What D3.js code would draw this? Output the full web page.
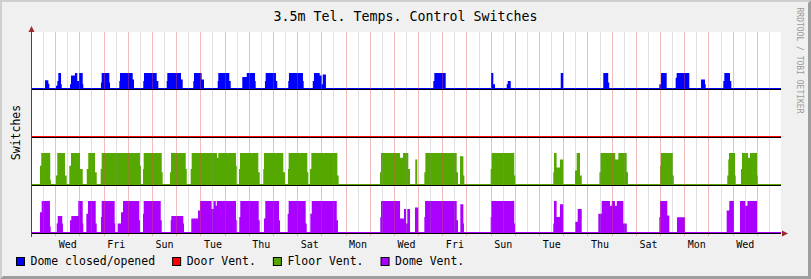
<!DOCTYPE html>
<html lang="en">
<head>
<meta charset="UTF-8">
<title>3.5m Tel. Temps. Control Switches</title>
<style>
  body { margin: 0; background: #f0f0f0; }
  svg { display: block; }
  text { font-family: "DejaVu Sans Mono", monospace; }
</style>
</head>
<body>
<script src="https://cdn.jsdelivr.net/npm/d3@7"></script>
<script>
// switch states: [hour since start (Tue 00:00), level 0..1], level holds until next point
const domeOpen = [[13.9,0.55],[17.2,0.33],[18.2,0],
  [24.8,0.2],[26.1,0.5],[27.1,1],[29.8,0.3],[30.5,0],
  [38.7,0.3],[39.7,0.85],[43.6,1],[45.9,0.5],[47.6,1],[51.3,0.3],[51.9,0],
  [69.4,0.4],[70.1,1],[77.7,0.4],[78.4,0],
  [87.6,0.5],[88.3,1],[100.9,0.6],[102.2,0],
  [111.4,0.5],[112.1,1],[124.7,0.5],[126.3,0],
  [134.6,0.5],[135.2,1],[148.8,0.6],[150.5,0],
  [161.0,0.5],[161.7,1],[169.3,0.6],[171.6,0],
  [185.2,0.5],[185.8,1],[196.7,0.5],[198.1,0],
  [209.6,0.75],[214.0,1],[222.2,0.5],[222.9,0],
  [232.1,0.5],[232.8,1],[243.0,0.5],[244.3,0],
  [255.2,0.5],[255.9,1],[269.8,0.5],[270.5,0],
  [279.5,0.5],[280.7,1],[286.4,0.85],[288.4,0.3],[289.4,0.9],[292.6,0],
  [399.1,0.5],[400.1,1],[411.4,0],
  [456.3,1],[458.6,0.3],[460.3,0],
  [471.9,0.3],[472.9,0.5],[475.9,0],
  [525.5,1],[528.0,0],
  [567.7,1],[572.6,0.4],[573.6,0],
  [623.3,0.3],[625.0,1],[630.6,0],
  [639.5,0.7],[640.5,1],[653.0,0],
  [664.6,0.6],[668.6,0.3],[669.3,0],
  [686.8,0.5],[687.8,1],[693.4,0.5],[694.7,0]];

const doorVent = [];

const floorVent = [[8.9,0.6],[10.2,1],[19.1,0.15],[19.8,0],
  [24.8,0.3],[26.1,1],[33.7,0.3],[35.4,0],
  [38.0,0.6],[39.7,1],[48.6,0.5],[51.3,0],
  [55.3,0.5],[56.8,1],[63.5,0.4],[65.2,0],
  [69.1,0.5],[70.1,1],[108.1,0.6],[109.1,0],
  [111.1,0.5],[111.8,1],[129.7,0.4],[130.6,0],
  [137.9,0.4],[138.9,1],[153.5,0.5],[154.5,0],
  [158.4,0.5],[159.4,1],[184.5,0.85],[185.8,1],[203.4,0.6],[204.1,0],
  [206.3,0.5],[207.3,1],[225.5,0.4],[226.9,0],
  [230.4,0.5],[231.1,1],[250.3,0.4],[252.0,0],
  [254.9,0.5],[255.6,1],[274.1,0.4],[275.1,0],
  [276.8,0.5],[278.1,1],[303.9,0.3],[305.2,0],
  [346.2,0.4],[347.2,1],[366.1,0.85],[369.0,1],[374.3,0.5],[376.0,0],
  [381.2,0.8],[383.2,0],
  [390.2,0.4],[391.2,1],[422.3,0.4],[423.6,0],
  [425.6,0.9],[428.9,0.3],[429.9,0],
  [456.0,0.5],[457.0,1],[479.4,0.3],[480.4,0],
  [518.1,0.4],[518.8,1],[521.4,0.55],[524.7,0.8],[528.0,0],
  [539.6,0.45],[541.3,1],[544.6,0.3],[546.3,0],
  [563.9,0.4],[564.9,1],[579.6,0.8],[582.6,1],[590.9,0.4],[592.2,0],
  [624.1,0.6],[624.8,1],[636.7,0.3],[637.7,0],
  [690.7,0.3],[691.7,0.8],[692.4,1],[698.4,0.3],[699.1,0],
  [704.3,0.5],[705.3,1],[711.3,0.85],[713.2,1],[720.2,0.3],[720.9,0]];

const domeVent = [[8.9,0.65],[10.6,1],[18.8,0.2],[19.5,0],
  [25.5,0.3],[26.5,0.53],[31.0,0.3],[31.7,0],
  [38.7,0.4],[40.0,0.53],[46.9,1],[51.3,0.3],[51.9,0],
  [54.9,0.6],[56.5,1],[64.2,0.3],[65.2,0],
  [69.4,0.5],[70.1,1],[83.0,0.3],[83.6,0],
  [86.0,0.3],[89.3,0.65],[91.3,1],[107.4,0.4],[108.1,0],
  [111.1,0.6],[111.8,1],[128.7,0.4],[129.7,0],
  [138.6,0.4],[139.2,0.53],[151.1,0.3],[151.8,0],
  [159.0,0.45],[165.7,0.7],[167.6,1],[179.2,0.75],[181.0,1],[183.3,0.85],[184.3,1],[203.4,0.4],[204.1,0],
  [206.6,0.5],[207.6,1],[225.9,0.4],[226.9,0],
  [231.1,0.45],[232.4,1],[246.0,0.4],[247.0,0],
  [254.6,0.6],[255.6,1],[272.5,0.3],[273.5,0],
  [277.1,0.6],[278.5,1],[303.3,0.4],[304.5,0],
  [346.5,0.5],[347.2,1],[366.1,0.45],[370.0,0.75],[372.0,0.3],[373.3,0.75],[376.0,0],
  [380.9,0.8],[384.2,0],
  [390.2,0.5],[390.9,1],[422.3,0.4],[423.6,0],
  [425.9,0.9],[428.9,0.3],[429.5,0],
  [456.0,0.5],[456.6,1],[479.4,0.3],[480.1,0],
  [518.1,0.3],[518.8,1],[521.4,0.5],[524.7,0.9],[528.0,0],
  [539.9,0.35],[542.3,0.75],[546.3,0],
  [562.8,0.6],[566.1,1],[574.4,0.85],[576.1,1],[579.3,0.85],[581.1,1],[587.6,0.3],[591.0,0],
  [623.3,0.5],[624.0,1],[631.2,0.55],[633.2,0],
  [640.8,0.49],[648.8,0],
  [690.1,0.7],[692.7,1],[697.4,0],
  [703.3,1],[708.7,0.85],[710.7,1],[720.2,0]];

const seriesNames = ['Dome closed/opened', 'Door Vent.', 'Floor Vent.', 'Dome Vent.'];
const dayNames = ['Wed', 'Fri', 'Sun', 'Tue', 'Thu', 'Sat', 'Mon', 'Wed', 'Fri', 'Sun', 'Tue', 'Thu', 'Sat', 'Mon', 'Wed'];
const labelDays = [1, 3, 5, 7, 9, 11, 13, 15, 17, 19, 21, 23, 25, 27, 29];
const totalHours = 744;

const width = 811, height = 279;
const margin = {left: 31, right: 30, top: 32, bottom: 46};

// each switch is drawn in its own band, offset up the y axis
const bands = [
  {data: domeOpen, base: 4.5, amp: 0.5, color: '#0000ff'},
  {data: doorVent, base: 3, amp: 1, color: '#ff0000'},
  {data: floorVent, base: 1.5, amp: 1, color: '#54a800'},
  {data: domeVent, base: 0, amp: 1, color: '#aa00ff'}
];

const svg = d3.select('body').append('svg')
  .attr('width', width).attr('height', height);

// background + 3d border
svg.append('rect').attr('width', width).attr('height', height).attr('fill', '#f0f0f0');
svg.append('path').attr('fill', '#cfcfcf')
  .attr('d', `M0,0H${width}L${width - 2},2H2V${height - 2}L0,${height}Z`);
svg.append('path').attr('fill', '#9e9e9e')
  .attr('d', `M${width},0V${height}H0L3,${height - 3}H${width - 3}V3Z`);

const x = d3.scaleLinear().domain([0, totalHours]).range([margin.left, width - margin.right]);
const y = d3.scaleLinear().domain([0, 6.25]).range([height - margin.bottom, margin.top + 1]);

const plotTop = margin.top, plotBottom = height - margin.bottom;

// canvas
svg.append('rect')
  .attr('x', x(0)).attr('y', plotTop)
  .attr('width', x(totalHours) - x(0)).attr('height', plotBottom - plotTop)
  .attr('fill', '#fff');

// areas
const g = svg.append('g').classed('series', true);
bands.forEach(b => {
  const pts = [[0, 0]].concat(b.data, [[totalHours, 0]]);
  g.append('path')
    .datum(pts)
    .attr('d', d3.area()
      .curve(d3.curveStepAfter)
      .x(d => x(d[0]))
      .y0(y(b.base))
      .y1(d => y(b.base + d[1] * b.amp)))
    .attr('fill', b.color);
  g.append('line')
    .attr('x1', x(0)).attr('x2', x(totalHours))
    .attr('y1', y(b.base) - 0.5).attr('y2', y(b.base) - 0.5)
    .attr('stroke', b.color).attr('stroke-width', 1);
});

// grid (drawn over data, semi transparent)
const minor = d3.range(12, totalHours, 24);
const major = d3.range(24, totalHours, 24);
svg.append('g').selectAll('line').data(minor).join('line')
  .attr('x1', d => Math.round(x(d)) + 0.5).attr('x2', d => Math.round(x(d)) + 0.5)
  .attr('y1', plotTop).attr('y2', plotBottom)
  .attr('stroke', 'rgba(143,143,143,0.28)');
svg.append('g').selectAll('line').data(major).join('line')
  .attr('x1', d => Math.round(x(d)) + 0.5).attr('x2', d => Math.round(x(d)) + 0.5)
  .attr('y1', plotTop).attr('y2', plotBottom + 3)
  .attr('stroke', 'rgba(222,80,80,0.38)');

// black rules under each band
svg.append('g').selectAll('line').data(bands).join('line')
  .attr('x1', x(0)).attr('x2', x(totalHours))
  .attr('y1', d => y(d.base) + 0.5).attr('y2', d => y(d.base) + 0.5)
  .attr('stroke', '#000');

// axes
const axisColor = '#5a3c3c', arrowColor = '#a02828';
svg.append('line')
  .attr('x1', x(0) + 0.5).attr('x2', x(0) + 0.5)
  .attr('y1', plotTop - 2).attr('y2', plotBottom + 4)
  .attr('stroke', axisColor);
svg.append('path').attr('fill', arrowColor)
  .attr('d', `M${x(0) + 0.5},${plotTop - 6}L${x(0) + 3.5},${plotTop}H${x(0) - 2.5}Z`);
svg.append('path').attr('fill', arrowColor)
  .attr('d', `M${x(totalHours) + 7},${plotBottom + 0.5}L${x(totalHours) + 1},${plotBottom - 2.5}V${plotBottom + 3.5}Z`);

const xAxis = d3.axisBottom(x)
  .tickValues(labelDays.map(d => d * 24 + 12))
  .tickFormat((d, i) => dayNames[i])
  .tickSize(0).tickPadding(8);
svg.append('g').attr('transform', `translate(0,${plotBottom})`)
  .call(xAxis)
  .call(g => g.select('.domain').remove())
  .call(g => g.selectAll('text')
    .attr('font-family', '"DejaVu Sans Mono", monospace')
    .attr('font-size', 10).attr('fill', '#000'));

// title and y label
svg.append('text')
  .attr('x', width / 2).attr('y', 21)
  .attr('text-anchor', 'middle').attr('font-size', 13.3)
  .text('3.5m Tel. Temps. Control Switches');
svg.append('text')
  .attr('transform', `translate(19.5,${(plotTop + plotBottom) / 2}) rotate(-90)`)
  .attr('text-anchor', 'middle').attr('font-size', 11.5)
  .text('Switches');

// watermark
svg.append('text')
  .attr('transform', `translate(797,7.5) rotate(90)`)
  .attr('font-size', 8).attr('fill', '#999')
  .text('RRDTOOL / TOBI OETIKER');

// legend
const legend = svg.append('g').classed('legend', true);
let lx = 16.5;
seriesNames.forEach((name, i) => {
  legend.append('rect')
    .attr('x', lx).attr('y', 257.5).attr('width', 8).attr('height', 8)
    .attr('fill', bands[i].color).attr('stroke', '#000');
  const t = legend.append('text')
    .attr('x', lx + 14).attr('y', 265)
    .attr('font-size', 11.5)
    .text(name);
  lx += 14 + t.node().getComputedTextLength() + 17.5;
});
</script>
</body>
</html>
